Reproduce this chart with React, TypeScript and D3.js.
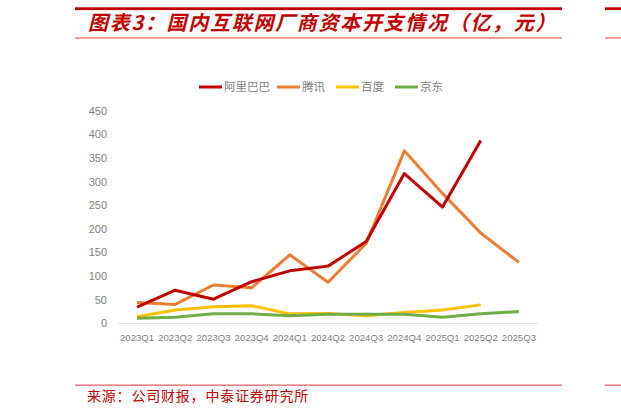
import React from "react";
import * as d3 from "d3";

const quarters = [
  "2023Q1", "2023Q2", "2023Q3", "2023Q4",
  "2024Q1", "2024Q2", "2024Q3", "2024Q4",
  "2025Q1", "2025Q2", "2025Q3",
];

const alibaba = [34, 70, 51, 88, 111, 121, 173, 317, 246, 387, null];
const tencent = [44, 40, 81, 75, 145, 87, 169, 365, 275, 191, 129];
const baidu = [14, 28, 35, 37, 20, 21, 16, 23, 28, 39, null];
const jd = [10.5, 13, 20, 20, 16, 19, 19, 19, 13, 20, 25];

const seriesNames = ["阿里巴巴", "腾讯", "百度", "京东"];
const seriesColors = ["#C00000", "#ED7D31", "#FFC000", "#70AD47"];
const yTicks = [0, 50, 100, 150, 200, 250, 300, 350, 400, 450];

const W = 621;
const H = 413;
const plot = { left: 118, right: 538, top: 110.7, bottom: 323.3 };

const App = () => {
  const x = d3
    .scaleBand()
    .domain(quarters)
    .range([plot.left, plot.right]);
  const y = d3.scaleLinear().domain([0, 450]).range([plot.bottom, plot.top]);

  const line = d3
    .line<number | null>()
    .defined((d) => d != null)
    .x((_, i) => x(quarters[i]) + x.bandwidth() / 2)
    .y((d) => y(d as number));

  const allSeries = [alibaba, tencent, baidu, jd];
  // small ones first so the big lines sit on top
  const drawOrder = [2, 3, 1, 0];

  const legendX = [199, 277, 336, 395];
  const font = "'Noto Sans CJK SC', 'Noto Sans', sans-serif";
  const axisFont = "'Liberation Sans', Arial, sans-serif";

  return (
    <svg
      width={W}
      height={H}
      style={{ position: "absolute", left: 0, top: 0, background: "#fff" }}
    >
      {/* header rules */}
      <rect x={75} y={7.3} width={487} height={2.8} fill="#C00000" />
      <rect x={605} y={7.3} width={16} height={2.8} fill="#C00000" />
      <rect x={75} y={37.3} width={487} height={1.3} fill="#E06666" />
      <rect x={605} y={37.3} width={16} height={1.3} fill="#E06666" />
      <text
        x={88}
        y={30}
        fill="#C00000"
        fontSize={20}
        fontWeight="bold"
        fontStyle="italic"
        fontFamily={font}
        letterSpacing={1.7}
      >
        图表3：国内互联网厂商资本开支情况（亿，元）
      </text>

      {/* legend */}
      {seriesNames.map((name, i) => (
        <g key={name}>
          <line
            x1={legendX[i]}
            x2={legendX[i] + 23}
            y1={87}
            y2={87}
            stroke={seriesColors[i]}
            strokeWidth={3}
          />
          <text
            x={legendX[i] + 25}
            y={91}
            fontSize={11.5}
            fill="#7f7f7f"
            fontFamily={font}
          >
            {name}
          </text>
        </g>
      ))}

      {/* y axis labels */}
      {yTicks.map((t) => (
        <text
          key={t}
          x={107}
          y={y(t) + 4}
          textAnchor="end"
          fontSize={11}
          fill="#7f7f7f"
          fontFamily={axisFont}
        >
          {t}
        </text>
      ))}

      {/* baseline */}
      <line
        x1={plot.left}
        x2={plot.right}
        y1={y(0)}
        y2={y(0)}
        stroke="#d9d9d9"
        strokeWidth={1}
      />

      {/* x labels */}
      {quarters.map((q) => (
        <text
          key={q}
          x={x(q) + x.bandwidth() / 2}
          y={341}
          textAnchor="middle"
          fontSize={9.6}
          fill="#7f7f7f"
          fontFamily={axisFont}
        >
          {q}
        </text>
      ))}

      {/* series */}
      {drawOrder.map((i) => (
        <path
          key={seriesNames[i]}
          d={line(allSeries[i]) || ""}
          fill="none"
          stroke={seriesColors[i]}
          strokeWidth={3}
          strokeLinejoin="round"
        />
      ))}

      {/* footer */}
      <rect x={75} y={384.5} width={487} height={1.3} fill="#E06666" />
      <rect x={605} y={384.5} width={16} height={1.3} fill="#E06666" />
      <text
        x={87}
        y={401}
        fill="#C00000"
        fontSize={14}
        letterSpacing={0.8}
        fontFamily={font}
      >
        来源：公司财报，中泰证券研究所
      </text>
    </svg>
  );
};

export default App;
